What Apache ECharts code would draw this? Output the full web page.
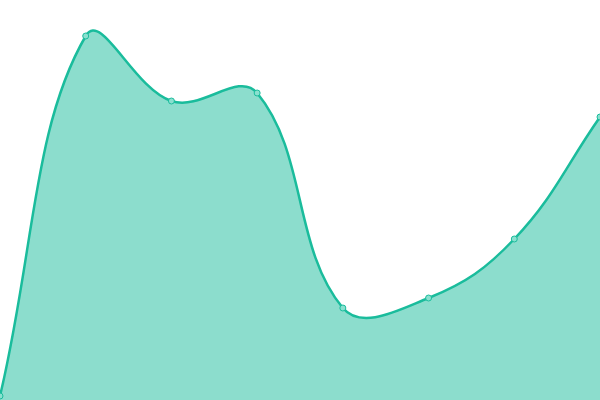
<!DOCTYPE html>
<html>
<head>
<meta charset="utf-8">
<script src="https://cdn.jsdelivr.net/npm/echarts@6/dist/echarts.min.js"></script>
<style>html,body{margin:0;padding:0;background:#fff}#c{width:600px;height:400px}</style>
</head>
<body>
<div id="c"></div>
<script>
const categories = ['A', 'B', 'C', 'D', 'E', 'F', 'G', 'H'];
const values = [4, 364, 299, 307, 92, 102, 161, 283];

const LINE = '#1abc9c';
const AREA = 'rgba(26,188,156,0.5)';
const TENSION = 0.4;

function buildPaths(pts, baseY) {
  const n = pts.length;
  const cps = pts.map((p, i) => {
    const prev = pts[i - 1] || p;
    const next = pts[i + 1] || p;
    const d01 = Math.hypot(p[0] - prev[0], p[1] - prev[1]);
    const d12 = Math.hypot(next[0] - p[0], next[1] - p[1]);
    const sum = d01 + d12 || 1;
    const fa = TENSION * d01 / sum;
    const fb = TENSION * d12 / sum;
    return {
      prev: [p[0] - fa * (next[0] - prev[0]), p[1] - fa * (next[1] - prev[1])],
      next: [p[0] + fb * (next[0] - prev[0]), p[1] + fb * (next[1] - prev[1])]
    };
  });
  let d = 'M' + pts[0][0] + ' ' + pts[0][1];
  for (let i = 1; i < n; i++) {
    const a = cps[i - 1].next, b = cps[i].prev, p = pts[i];
    d += ' C' + a[0] + ' ' + a[1] + ' ' + b[0] + ' ' + b[1] + ' ' + p[0] + ' ' + p[1];
  }
  const area = d + ' L' + pts[n - 1][0] + ' ' + baseY + ' L' + pts[0][0] + ' ' + baseY + ' Z';
  return { line: d, area: area };
}

const chart = echarts.init(document.getElementById('c'));
chart.setOption({
  animation: false,
  grid: { left: 0, right: 0, top: 0, bottom: 0 },
  xAxis: { type: 'category', data: categories, boundaryGap: false, show: false },
  yAxis: { type: 'value', min: 0, max: 400, show: false },
  series: [{
    type: 'custom',
    data: values.map((v, i) => [i, v]),
    encode: { x: 0, y: 1 },
    renderItem: function (params, api) {
      if (params.dataIndex !== 0) return null;
      const pts = values.map((v, i) => api.coord([i, v]));
      const baseY = api.coord([0, 0])[1];
      const p = buildPaths(pts, baseY);
      return {
        type: 'group',
        children: [
          { type: 'path', shape: { pathData: p.area }, style: { fill: AREA, stroke: null } },
          { type: 'path', shape: { pathData: p.line }, style: { fill: null, stroke: LINE, lineWidth: 2.5 } }
        ]
      };
    },
    z: 1
  }, {
    type: 'scatter',
    data: values,
    symbol: 'circle',
    symbolSize: 6,
    itemStyle: { color: '#8ae0cf', borderColor: LINE, borderWidth: 1, opacity: 1 },
    z: 2
  }]
});
</script>
</body>
</html>
